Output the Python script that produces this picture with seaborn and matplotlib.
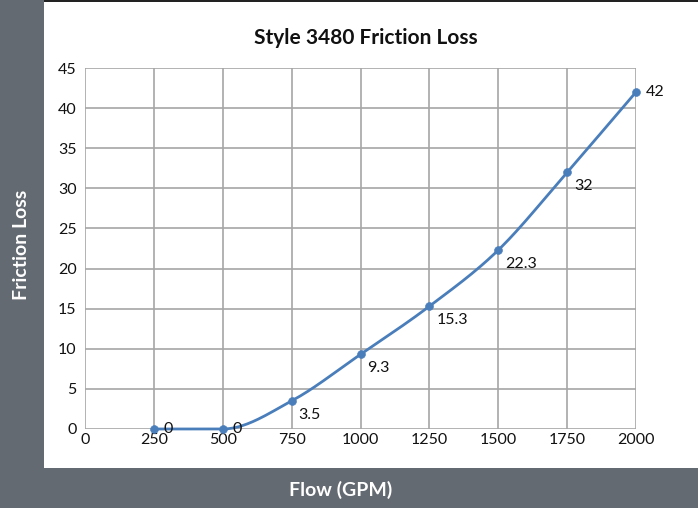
import numpy as np
import pandas as pd
import matplotlib
matplotlib.use("Agg")
import matplotlib.pyplot as plt
from matplotlib.patches import Rectangle
import seaborn as sns

# data
flow = [250, 500, 750, 1000, 1250, 1500, 1750, 2000]
loss = [0, 0, 3.5, 9.3, 15.3, 22.3, 32, 42]
labels = ["0", "0", "3.5", "9.3", "15.3", "22.3", "32", "42"]
x_ticks = [0, 250, 500, 750, 1000, 1250, 1500, 1750, 2000]
y_ticks = [0, 5, 10, 15, 20, 25, 30, 35, 40, 45]

BORDER = "#646a71"
BLUE = "#4a7ebb"
GRID = "#a6a6a6"

sns.set_theme(style="white")
plt.rcParams["font.family"] = ["Lato", "DejaVu Sans"]


def smooth_curve(xs, ys, n=40):
    # monotone cubic (Fritsch-Carlson) so the flat start stays flat
    x = np.asarray(xs, float)
    y = np.asarray(ys, float)
    h = np.diff(x)
    d = np.diff(y) / h
    m = np.zeros_like(y)
    m[0], m[-1] = d[0], d[-1]
    for i in range(1, len(y) - 1):
        if d[i - 1] * d[i] <= 0:
            m[i] = 0
        else:
            m[i] = (d[i - 1] + d[i]) / 2
    for i in range(len(d)):
        if d[i] == 0:
            m[i] = m[i + 1] = 0
        else:
            a, b = m[i] / d[i], m[i + 1] / d[i]
            s = a * a + b * b
            if s > 9:
                t = 3 / np.sqrt(s)
                m[i], m[i + 1] = t * a * d[i], t * b * d[i]
    px, py = [], []
    for i in range(len(d)):
        t = np.linspace(0, 1, n)
        h00 = 2 * t**3 - 3 * t**2 + 1
        h10 = t**3 - 2 * t**2 + t
        h01 = -2 * t**3 + 3 * t**2
        h11 = t**3 - t**2
        seg = h00 * y[i] + h10 * h[i] * m[i] + h01 * y[i + 1] + h11 * h[i] * m[i + 1]
        px.append(x[i] + t * h[i])
        py.append(seg)
    return np.concatenate(px), np.concatenate(py)


df = pd.DataFrame({"flow": flow, "loss": loss})
sx, sy = smooth_curve(flow, loss)
curve = pd.DataFrame({"flow": sx, "loss": sy})

fig = plt.figure(figsize=(6.98, 5.08), dpi=100)
fig.patch.set_facecolor(BORDER)

# background frame: white panel inside the grey border
bg = fig.add_axes([0, 0, 1, 1], zorder=-10)
bg.set_xlim(0, 698)
bg.set_ylim(508, 0)
bg.axis("off")
bg.add_patch(Rectangle((44, 2), 654, 466, facecolor="white", edgecolor="none"))
bg.add_patch(Rectangle((44, 0), 654, 2, facecolor="#222222", edgecolor="none"))

ax = fig.add_axes([85 / 698, 79 / 508, 551 / 698, 361 / 508])
ax.set_facecolor("none")

sns.lineplot(data=curve, x="flow", y="loss", sort=False, color=BLUE, linewidth=2,
             ax=ax, zorder=3, clip_on=False)
sns.scatterplot(data=df, x="flow", y="loss", color=BLUE, s=32, edgecolor=BLUE,
                ax=ax, zorder=4, clip_on=False)

for xv, yv, lab in zip(flow, loss, labels):
    if yv == 0 or xv == 2000:
        ax.annotate(lab, (xv, yv), xytext=(7, 0), textcoords="offset points",
                    ha="left", va="center", fontsize=11.5, color="#111111")
    else:
        ax.annotate(lab, (xv, yv), xytext=(5, -5), textcoords="offset points",
                    ha="left", va="top", fontsize=11.5, color="#111111")

ax.set_xlim(0, 2000)
ax.set_ylim(0, 45)
ax.set_xticks(x_ticks)
ax.set_yticks(y_ticks)
ax.grid(True, color=GRID, linewidth=1.2)
for s in ax.spines.values():
    s.set_visible(False)
ax.tick_params(axis="both", length=4, color=GRID, width=1.2, labelsize=11.5,
               labelcolor="#111111", pad=2)
ax.tick_params(axis="x", length=0, pad=3)
ax.set_xlabel("")
ax.set_ylabel("")

fig.text(366 / 698, 1 - 38 / 508, "Style 3480 Friction Loss", ha="center", va="center",
         fontsize=15, fontweight="bold", color="#111111")
fig.text(22 / 698, 1 - 245 / 508, "Friction Loss", rotation=90, ha="center", va="center",
         fontsize=14, fontweight="bold", color="white")
fig.text(341 / 698, 1 - 490 / 508, "Flow (GPM)", ha="center", va="center",
         fontsize=14, fontweight="bold", color="white")

fig.savefig("out.png", dpi=100, facecolor=fig.get_facecolor())
